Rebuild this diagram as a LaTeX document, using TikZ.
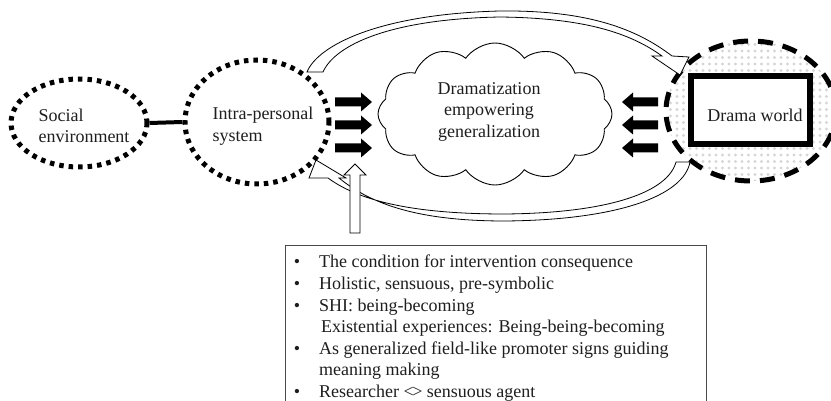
\documentclass[tikz,border=0pt]{standalone}
\usepackage{fontspec}
\setmainfont{Liberation Serif}
\usetikzlibrary{shapes.geometric,shapes.symbols}
\definecolor{ink}{HTML}{1E1E1E}
\definecolor{dotfill}{HTML}{D6D6D6}
\definecolor{boxline}{HTML}{4A4A4A}
\begin{document}
\begin{tikzpicture}[x=1pt,y=-1pt,
  txt/.style={font=\fontsize{18}{21.5}\selectfont, text=ink, inner sep=0pt},
  dotring/.style={ellipse, draw=black, line width=5pt, dash pattern=on 4.5pt off 5pt, inner sep=0pt},
  dashring/.style={ellipse, draw=black, line width=5pt, dash pattern=on 15pt off 10pt, inner sep=0pt},
  hollow/.style={draw=black, line width=0.8pt, fill=white, line join=miter},
  blockarrow/.style={fill=black}
]
\useasboundingbox (0,0) rectangle (831,401);

% social environment and intra-personal system
\node[dotring, minimum width=136pt, minimum height=88pt] (social) at (79,123) {};
\node[txt, align=left] (socialtxt) at (84,126) {Social\\environment};
\node[dotring, minimum width=144pt, minimum height=124pt] (intra) at (257,122) {};
\node[txt, align=left] (intratxt) at (263,126) {Intra-personal\\system};
\draw[line width=4pt] (social.east) -- (intra.west);

% drama world: dotted fill inside a dashed ring
\begin{scope}
  \clip (751,111) ellipse (85 and 70);
  \foreach \i in {0,...,28}
    \foreach \j in {0,...,24}
      \fill[dotfill] (664+\i*6.5, 38+\j*6.5) circle (1.7);
\end{scope}
\node[dashring, minimum width=170pt, minimum height=140pt] (drama) at (751,111) {};
\node[draw=black, line width=6pt, fill=white, minimum width=119pt, minimum height=68pt, inner sep=0pt] (world) at (750.5,110) {};
\node[txt] (worldtxt) at (755,115) {Drama world};

% central cloud
\node[cloud, draw=black, line width=0.9pt, cloud puffs=12, cloud puff arc=110, cloud ignores aspect,
      minimum width=234pt, minimum height=142pt, inner sep=0pt] (cloudnode) at (495,114) {};
\node[txt, align=center] (cloudtxt) at (489,111.5) {Dramatization\\empowering\\generalization};

% block arrows into the cloud
\foreach \y in {102,125,148}
  \fill[blockarrow] (335,\y-4.5) -- (361,\y-4.5) -- (361,\y-9.5) -- (372,\y) -- (361,\y+9.5) -- (361,\y+4.5) -- (335,\y+4.5) -- cycle;
\foreach \y in {102,125,148}
  \fill[blockarrow] (658,\y-4.5) -- (633,\y-4.5) -- (633,\y-9.5) -- (622,\y) -- (633,\y+9.5) -- (633,\y+4.5) -- (658,\y+4.5) -- cycle;

% curved hollow arrow over the top
\draw[hollow] (307,72) .. controls (318,45) and (380,14) .. (500,11)
  .. controls (590,10) and (638,30) .. (672,56)
  -- (689,57) -- (680,75) -- (652,56) -- (662,56)
  .. controls (630,33) and (585,18) .. (500,17)
  .. controls (390,19) and (335,45) .. (323,72) -- cycle;

% curved hollow arrow along the bottom
\draw[hollow] (690,162) .. controls (684,195) and (620,220) .. (505,221)
  .. controls (420,221) and (372,205) .. (339,178)
  -- (346,178) -- (316,160) -- (309,178) -- (328,178)
  .. controls (362,203) and (420,214) .. (505,214)
  .. controls (610,213) and (668,192) .. (676,162) -- cycle;

% upward hollow arrow from the notes
\draw[hollow] (350,233) -- (350,175) -- (344,175) -- (355,164) -- (366,175) -- (360,175) -- (360,233) -- cycle;

% notes box
\begin{scope}
  \clip (0,0) rectangle (831,401);
  \draw[boxline, line width=1pt] (285,246) rectangle (706,430);
\end{scope}
\foreach \y/\t [count=\k] in {262/The condition for intervention consequence,
                     283.5/{Holistic, sensuous, pre-symbolic},
                     305/SHI: being-becoming,
                     348/As generalized field-like promoter signs guiding,
                     391/Researcher <\kern-1.5pt> sensuous agent}
  {\node[txt, anchor=base] (bullet\k) at (297,\y+6) {•};
   \node[txt, anchor=base west] (note\k) at (319,\y+6) {\t};}
\node[txt, anchor=base west] (exist) at (321,332.5) {Existential experiences: Being-being-becoming};
\node[txt, anchor=base west] (meaning) at (319,375.5) {meaning making};
\end{tikzpicture}
\end{document}
